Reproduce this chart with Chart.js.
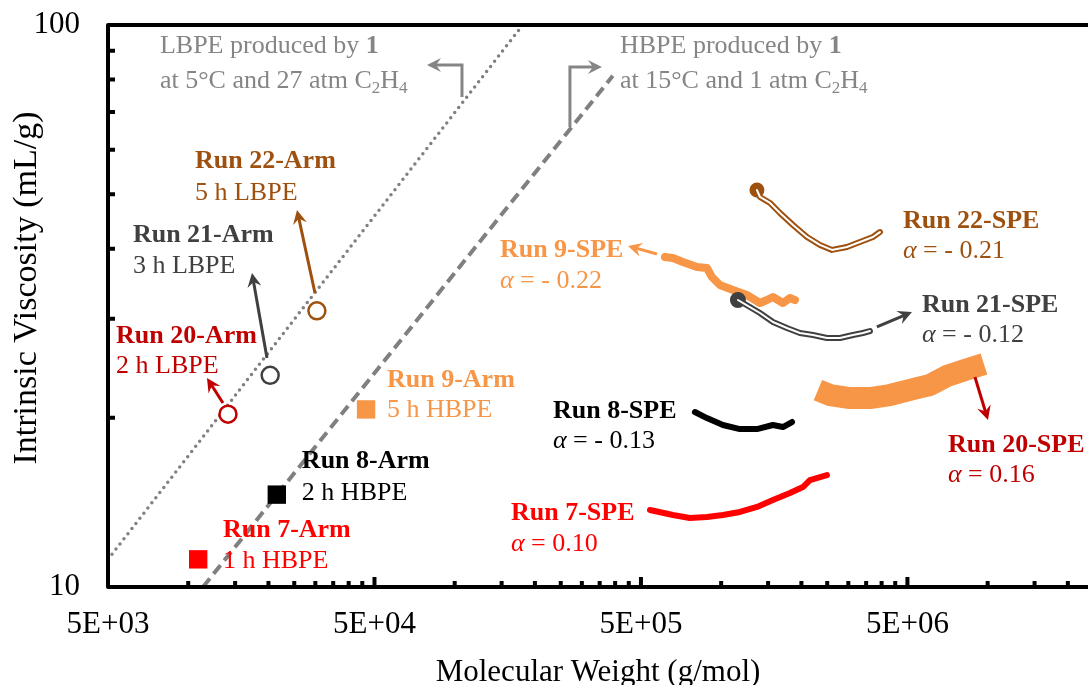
<!DOCTYPE html>
<html>
<head>
<meta charset="utf-8">
<title>Intrinsic Viscosity vs Molecular Weight</title>
<script src="https://cdn.jsdelivr.net/npm/chart.js@4.4.1/dist/chart.umd.min.js"></script>
<style>
  html, body { margin: 0; padding: 0; background: #fff; }
  #ivChart { display: block; }
</style>
</head>
<body>
<canvas id="ivChart" width="1088" height="685"></canvas>
<script>
// Axis ticks (log-log)
const xMax = 2.38e7;
const xMajorTicks = [5e3, 5e4, 5e5, 5e6];
const xTickLabels = ['5E+03', '5E+04', '5E+05', '5E+06'];
const yMajorTicks = [10, 100];
const yTickLabels = ['10', '100'];

// Arm samples (single GPC points)
const hbpeArmMw = [10900, 21500, 46500];     // Run 7, 8, 9
const hbpeArmIV = [11.2, 14.6, 20.7];
const lbpeArmMw = [14100, 20300, 30400];     // Run 20, 21, 22
const lbpeArmIV = [20.3, 23.8, 31.0];

// Reference lines
const lbpeLineMw = [5000, 180000];
const lbpeLineIV = [11.2, 100];
const hbpeLineMw = [11360, 392000];
const hbpeLineIV = [10, 81.2];

// SPE traces (Mark-Houwink)
const run7Mw = [540500, 659000, 763000, 884000, 1015000, 1176000, 1362000, 1564000, 1812000, 2027000, 2153000, 2494000];
const run7IV = [13.71, 13.43, 13.27, 13.32, 13.43, 13.60, 13.88, 14.28, 14.70, 15.06, 15.50, 15.82];
const run8Mw = [797000, 884000, 1015000, 1176000, 1362000, 1564000, 1705000, 1844000];
const run8IV = [20.48, 19.98, 19.42, 19.10, 19.10, 19.42, 19.26, 19.66];
const run9Mw = [615000, 659000, 718000, 811000, 884000, 923000, 989000, 1107000, 1249000, 1398000, 1485000, 1564000, 1705000, 1812000, 1892000];
const run9IV = [38.66, 38.50, 37.87, 37.10, 36.95, 35.61, 34.46, 33.77, 33.08, 32.01, 32.41, 32.81, 32.01, 32.68, 32.41];
const run20Mw = [2307000, 2560000, 3042000, 3616000, 4297000, 5246000, 6072000, 7035000, 8222000, 9685000];
const run20IV = [22.41, 21.96, 21.69, 21.69, 21.96, 22.50, 22.88, 23.74, 24.33, 24.94];
const run21Mw = [1156000, 1282000, 1398000, 1564000, 1765000, 1975000, 2210000, 2494000, 2791000, 3122000, 3404000, 3616000];
const run21IV = [32.41, 31.49, 30.73, 29.62, 28.90, 28.31, 28.08, 27.74, 27.74, 28.08, 28.31, 28.54];
const run22Mw = [1362000, 1398000, 1525000, 1662000, 1860000, 2099000, 2348000, 2605000, 2965000, 3317000, 3711000, 3942000];
const run22IV = [50.86, 49.43, 48.23, 46.29, 44.07, 41.96, 40.61, 39.79, 40.27, 41.10, 41.96, 42.81];

// Colours
const RED = '#FF0000';
const DARKRED = '#C00000';
const ORANGE = '#F79646';
const BROWN = '#9E500F';
const DARKGRAY = '#404040';
const GRAY = '#858585';
const FONT = '"Liberation Serif", "Times New Roman", serif';

// Text notes: anchor = left / baseline of first line, in data units
const notes = [
    { x: 7830, y: 89.2, gap: 35, color: GRAY, lines: ['LBPE produced by **1**', 'at 5°C and 27 atm C_{2}H_{4}'] },
    { x: 417000, y: 89.2, gap: 35, color: GRAY, lines: ['HBPE produced by **1**', 'at 15°C and 1 atm C_{2}H_{4}'] },
    { x: 10600, y: 55.7, gap: 32, color: BROWN, lines: ['**Run 22-Arm**', '5 h LBPE'] },
    { x: 6200, y: 41.1, gap: 31, color: DARKGRAY, lines: ['**Run 21-Arm**', '3 h LBPE'] },
    { x: 5360, y: 27.2, gap: 30, color: DARKRED, lines: ['**Run 20-Arm**', '2 h LBPE'] },
    { x: 55700, y: 22.7, gap: 30, color: ORANGE, lines: ['**Run 9-Arm**', '5 h HBPE'] },
    { x: 26700, y: 16.3, gap: 32, color: '#000', lines: ['**Run 8-Arm**', '2 h HBPE'] },
    { x: 13500, y: 12.27, gap: 31, color: RED, lines: ['**Run 7-Arm**', '1 h HBPE'] },
    { x: 147800, y: 38.66, gap: 31, color: ORANGE, lines: ['**Run 9-SPE**', '//α// = - 0.22'] },
    { x: 4809000, y: 43.5, gap: 30, color: BROWN, lines: ['**Run 22-SPE**', '//α// = - 0.21'] },
    { x: 5667000, y: 30.86, gap: 30, color: DARKGRAY, lines: ['**Run 21-SPE**', '//α// = - 0.12'] },
    { x: 7095000, y: 17.4, gap: 30, color: DARKRED, lines: ['**Run 20-SPE**', '//α// = 0.16'] },
    { x: 233700, y: 20.0, gap: 30, color: '#000', lines: ['**Run 8-SPE**', '//α// = - 0.13'] },
    { x: 162600, y: 13.16, gap: 31, color: RED, lines: ['**Run 7-SPE**', '//α// = 0.10'] }
];

// Arrows (path in data units, head at the last point)
const arrows = [
    { path: [[13500, 21.25], [11760, 23.55]], color: DARKRED },
    { path: [[19750, 25.56], [17350, 36.2]], color: DARKGRAY },
    { path: [[29900, 33.35], [25600, 46.87]], color: BROWN },
    { path: [[574000, 39.13], [446800, 40.45]], color: ORANGE },
    { path: [[3841000, 29.02], [5200000, 30.86]], color: DARKGRAY },
    { path: [[8960000, 23.64], [10030000, 19.82]], color: DARKRED },
    { path: [[106500, 74.45], [106500, 84.87], [78700, 84.87]], color: GRAY },
    { path: [[270700, 65.83], [270700, 84.19], [357000, 84.19]], color: GRAY }
];

const toPoints = (xs, ys) => xs.map((v, i) => ({ x: v, y: ys[i] }));

function tickList(majors, max) {
    const out = [];
    majors.forEach(m => {
        for (let k = 1; k <= 9; k++) if (m * k <= max) out.push(m * k);
    });
    return out;
}

// **bold**, //italic//, _{sub}
function segments(str) {
    return str.split(/(\*\*.+?\*\*|_\{.+?\}|\/\/.+?\/\/)/).filter(Boolean).map(t => {
        if (t.startsWith('**')) return { t: t.slice(2, -2), bold: true };
        if (t.startsWith('_{')) return { t: t.slice(2, -1), sub: true };
        if (t.startsWith('//')) return { t: t.slice(2, -2), italic: true };
        return { t };
    });
}

function drawRich(ctx, x, y, segs, size, color) {
    let cx = x;
    ctx.fillStyle = color;
    ctx.textAlign = 'left';
    ctx.textBaseline = 'alphabetic';
    segs.forEach(s => {
        const fs = s.sub ? Math.round(size * 0.65) : size;
        ctx.font = (s.italic ? 'italic ' : '') + (s.bold ? 'bold ' : '') + fs + 'px ' + FONT;
        ctx.fillText(s.t, cx, y + (s.sub ? size * 0.2 : 0));
        cx += ctx.measureText(s.t).width;
    });
}

function drawArrow(ctx, pts, color, width) {
    const head = 14, half = 7;
    const [ex, ey] = pts[pts.length - 1];
    const [sx, sy] = pts[pts.length - 2];
    const a = Math.atan2(ey - sy, ex - sx);
    const c = Math.cos(a), s = Math.sin(a);
    ctx.strokeStyle = color;
    ctx.fillStyle = color;
    ctx.lineWidth = width;
    ctx.lineJoin = 'miter';
    ctx.lineCap = 'butt';
    ctx.beginPath();
    ctx.moveTo(pts[0][0], pts[0][1]);
    for (let i = 1; i < pts.length - 1; i++) ctx.lineTo(pts[i][0], pts[i][1]);
    ctx.lineTo(ex - c * head * 0.6, ey - s * head * 0.6);
    ctx.stroke();
    ctx.beginPath();
    ctx.moveTo(ex, ey);
    ctx.lineTo(ex - head * c + half * s, ey - head * s - half * c);
    ctx.lineTo(ex - head * 0.65 * c, ey - head * 0.65 * s);
    ctx.lineTo(ex - head * c - half * s, ey - head * s + half * c);
    ctx.closePath();
    ctx.fill();
}

// Annotation text and arrows
const notesPlugin = {
    id: 'notesPlugin',
    afterDatasetsDraw(chart) {
        const { ctx, scales: { x, y } } = chart;
        const px = p => [x.getPixelForValue(p[0]), y.getPixelForValue(p[1])];
        ctx.save();
        arrows.forEach(a => drawArrow(ctx, a.path.map(px), a.color, 3));
        notes.forEach(n => {
            const [nx, ny] = px([n.x, n.y]);
            n.lines.forEach((line, i) => drawRich(ctx, nx, ny + i * n.gap, segments(line), 26, n.color));
        });
        ctx.restore();
    }
};

// Thick frame with inward ticks + y title
const framePlugin = {
    id: 'framePlugin',
    afterDraw(chart) {
        const { ctx, chartArea: { left, top, right, bottom }, scales: { x, y } } = chart;
        ctx.save();
        ctx.strokeStyle = '#000';
        ctx.lineWidth = 4;
        ctx.lineJoin = 'round';
        ctx.beginPath();
        ctx.moveTo(right, top);
        ctx.lineTo(left, top);
        ctx.lineTo(left, bottom);
        ctx.lineTo(right, bottom);
        ctx.stroke();
        ctx.beginPath();
        x.ticks.forEach(t => {
            const p = x.getPixelForValue(t.value);
            if (p <= left + 1) return;
            const len = xMajorTicks.includes(t.value) ? 10 : 6;
            ctx.moveTo(p, bottom);
            ctx.lineTo(p, bottom - len);
        });
        y.ticks.forEach(t => {
            const p = y.getPixelForValue(t.value);
            if (p >= bottom - 1 || p <= top + 1) return;
            ctx.moveTo(left, p);
            ctx.lineTo(left + 7, p);
        });
        ctx.stroke();

        // y title (Excel places it a bit above the plot centre)
        ctx.translate(27, (top + bottom) / 2 - 18);
        ctx.rotate(-Math.PI / 2);
        ctx.font = '34px ' + FONT;
        ctx.fillStyle = '#000';
        ctx.textAlign = 'center';
        ctx.textBaseline = 'middle';
        ctx.fillText('Intrinsic Viscosity (mL/g)', 0, 0);
        ctx.restore();
    }
};

document.addEventListener('DOMContentLoaded', () => {
    Chart.defaults.font.family = FONT;
    Chart.defaults.color = '#000';

    const speLine = (xs, ys, color, width, extra) => Object.assign({
        data: toPoints(xs, ys),
        showLine: true,
        borderColor: color,
        backgroundColor: color,
        borderWidth: width,
        borderCapStyle: 'round',
        borderJoinStyle: 'round',
        pointRadius: 0,
        tension: 0
    }, extra || {});

    const datasets = [
        // Arm points on top
        {
            data: toPoints(hbpeArmMw, hbpeArmIV),
            pointStyle: 'rect',
            pointRadius: 13,
            pointBorderWidth: 0,
            pointBackgroundColor: [RED, '#000', ORANGE],
            pointBorderColor: [RED, '#000', ORANGE],
            order: 0
        },
        {
            data: toPoints(lbpeArmMw, lbpeArmIV),
            pointStyle: 'circle',
            pointRadius: 8.5,
            pointBorderWidth: 2.5,
            pointBackgroundColor: '#fff',
            pointBorderColor: [DARKRED, DARKGRAY, BROWN],
            order: 0
        },
        // Double-line traces: white core over dark outline
        speLine(run21Mw, run21IV, '#fff', 2, { order: 1 }),
        speLine(run21Mw, run21IV, DARKGRAY, 6, { order: 2, pointRadius: c => c.dataIndex === 0 ? 5 : 0 }),
        speLine(run22Mw, run22IV, '#fff', 2, { order: 1 }),
        speLine(run22Mw, run22IV, BROWN, 6, { order: 2, pointRadius: c => c.dataIndex === 0 ? 4.5 : 0 }),
        speLine(run7Mw, run7IV, RED, 6, { order: 3 }),
        speLine(run8Mw, run8IV, '#000', 6, { order: 3 }),
        speLine(run9Mw, run9IV, ORANGE, 8, { order: 3 }),
        speLine(run20Mw, run20IV, ORANGE, 22, { order: 3, borderCapStyle: 'butt' }),
        // LBPE / HBPE reference lines
        speLine(lbpeLineMw, lbpeLineIV, '#808080', 3.5, { order: 5, borderDash: [0, 6.5] }),
        speLine(hbpeLineMw, hbpeLineIV, '#808080', 4, { order: 5, borderDash: [11, 6], borderCapStyle: 'butt' })
    ];

    const ctxIV = document.getElementById('ivChart').getContext('2d');
    new Chart(ctxIV, {
        type: 'scatter',
        data: { datasets },
        plugins: [notesPlugin, framePlugin],
        options: {
            responsive: false,
            animation: false,
            events: [],
            layout: { autoPadding: false, padding: { top: 25, left: 0, right: 0, bottom: 0 } },
            plugins: {
                legend: { display: false },
                tooltip: { enabled: false }
            },
            scales: {
                x: {
                    type: 'logarithmic',
                    min: 5000,
                    max: xMax,
                    afterBuildTicks: s => { s.ticks = tickList(xMajorTicks, xMax).map(v => ({ value: v })); },
                    afterFit: s => { s.height = 98; s.paddingLeft = 0; s.paddingRight = 0; },
                    grid: { display: false, drawTicks: false },
                    border: { display: false },
                    ticks: {
                        autoSkip: false,
                        maxRotation: 0,
                        padding: 19,
                        font: { size: 31 },
                        callback: v => {
                            const i = xMajorTicks.indexOf(v);
                            return i >= 0 ? xTickLabels[i] : '';
                        }
                    },
                    title: {
                        display: true,
                        text: 'Molecular Weight (g/mol)',
                        font: { size: 31, lineHeight: 0.8 },
                        padding: 0
                    }
                },
                y: {
                    type: 'logarithmic',
                    min: 10,
                    max: 100,
                    afterBuildTicks: s => { s.ticks = tickList([10], 100).concat([100]).map(v => ({ value: v })); },
                    afterFit: s => { s.width = 108; s.paddingTop = 0; s.paddingBottom = 0; },
                    grid: { display: false, drawTicks: false },
                    border: { display: false },
                    ticks: {
                        autoSkip: false,
                        padding: 28,
                        font: { size: 31 },
                        callback: v => {
                            const i = yMajorTicks.indexOf(v);
                            return i >= 0 ? yTickLabels[i] : '';
                        }
                    },
                    title: { display: false }
                }
            }
        }
    });
});
</script>
</body>
</html>
